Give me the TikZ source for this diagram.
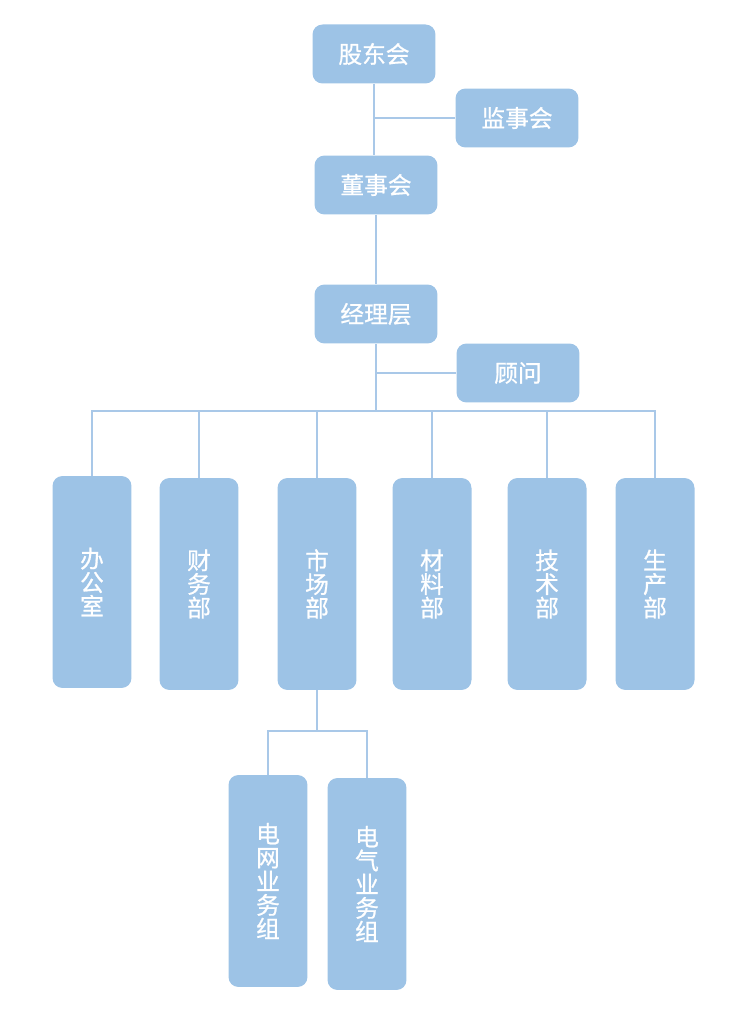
\documentclass[tikz,border=0pt]{standalone}
\usepackage{fontspec}
\newfontfamily\cjk[FakeBold=0.8]{Noto Sans CJK SC}
\usetikzlibrary{positioning,calc}
\definecolor{boxblue}{HTML}{9DC3E6}
\definecolor{lineblue}{HTML}{A9C8E8}

\tikzset{
  flatbox/.style={rectangle, rounded corners=0.2cm, fill=boxblue, text=white,
    font=\cjk\fontsize{13.5}{13.5}\selectfont, minimum width=2.46cm, minimum height=1.18cm, inner sep=0pt},
  tallbox/.style={flatbox, align=center, minimum width=1.58cm, minimum height=4.24cm},
  link/.style={lineblue, line width=0.9pt}
}

\begin{document}
\begin{tikzpicture}[x=0.02cm, y=-0.02cm]
        \useasboundingbox (0,0) rectangle (750,1023);
        % Top levels
        \node[flatbox] (gdh) at (374,54) {股东会};
        \node[flatbox] (jsh) at (517,118) {监事会};
        \node[flatbox] (dsh) at (376,185) {董事会};
        \node[flatbox] (jlc) at (376,314) {经理层};
        \node[flatbox] (gw) at (518,373) {顾问};
        % Departments
        \node[tallbox] (bgs) at (92,582) {办\\公\\室};
        \node[tallbox] (cwb) at (199,584) {财\\务\\部};
        \node[tallbox] (scb) at (317,584) {市\\场\\部};
        \node[tallbox] (clb) at (432,584) {材\\料\\部};
        \node[tallbox] (jsb) at (547,584) {技\\术\\部};
        \node[tallbox] (sczb) at (655,584) {生\\产\\部};
        % Groups under 市场部
        \node[tallbox] (dwz) at (268,881) {电\\网\\业\\务\\组};
        \node[tallbox] (dqz) at (367,884) {电\\气\\业\\务\\组};
        % Bus points
        \coordinate (bus) at (376,411);
        \coordinate (sub) at (318,731);
        % Connectors
        \draw[link] (gdh.south) -- (gdh.south |- dsh.north);
        \draw[link] (jsh.west) -- (gdh.south |- jsh.west);
        \draw[link] (dsh.south) -- (jlc.north);
        \draw[link] (jlc.south) -- (jlc.south |- bus);
        \draw[link] (gw.west) -- (jlc.south |- gw.west);
        \draw[link] (bgs.north) -- (bgs.north |- bus) -- (sczb.north |- bus) -- (sczb.north);
        \foreach \d in {cwb,scb,clb,jsb}
            \draw[link] (\d.north) -- (\d.north |- bus);
        \draw[link] (scb.south) -- (scb.south |- sub);
        \draw[link] (dwz.north) -- (dwz.north |- sub) -- (dqz.north |- sub) -- (dqz.north);
\end{tikzpicture}
\end{document}
